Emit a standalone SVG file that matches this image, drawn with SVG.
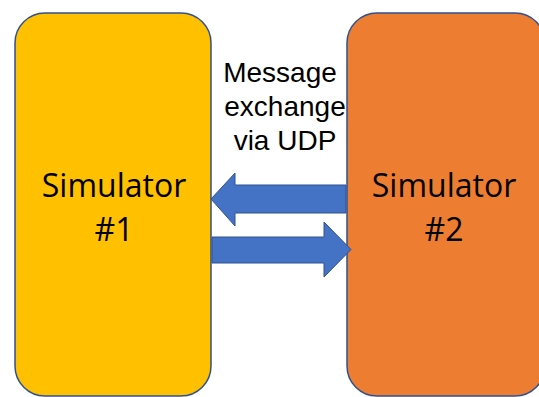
<svg xmlns="http://www.w3.org/2000/svg" width="539" height="397" viewBox="0 0 539 397">
  <style>
    .box { stroke: #2F528F; stroke-width: 1.5; }
    .sim1 { fill: #FFC000; }
    .sim2 { fill: #ED7D31; }
    .label { fill: #000; text-anchor: middle; }
    .big { font-family: "Open Sans", "Liberation Sans", sans-serif; font-size: 32px; }
    .small { font-family: "Liberation Sans", Arial, sans-serif; font-size: 28px; }
    .arrow { fill: #4472C4; stroke: #2F528F; stroke-width: 1; }
  </style>
  <rect width="539" height="397" fill="#FFFFFF"/>

  <g id="simulator1">
    <rect class="box sim1" x="15" y="13" width="196" height="383" rx="30" ry="30"/>
    <text class="label big" x="114" y="197">Simulator</text>
    <text class="label big" x="114" y="241">#1</text>
  </g>

  <g id="simulator2">
    <rect class="box sim2" x="347" y="13" width="198" height="383" rx="30" ry="30"/>
    <text class="label big" x="444" y="197">Simulator</text>
    <text class="label big" x="444" y="241">#2</text>
  </g>

  <g id="caption">
    <text class="label small" x="280" y="82">Message</text>
    <text class="label small" x="285" y="116">exchange</text>
    <text class="label small" x="285" y="150">via UDP</text>
  </g>

  <g id="connectors">
    <!-- #2 to #1 -->
    <polygon class="arrow" points="346,185 235,185 235,173 211,199 235,226 235,213 346,213"/>
    <!-- #1 to #2 -->
    <polygon class="arrow" points="212,237 324,237 324,222 351,249.5 324,277 324,263 212,263"/>
  </g>
</svg>
